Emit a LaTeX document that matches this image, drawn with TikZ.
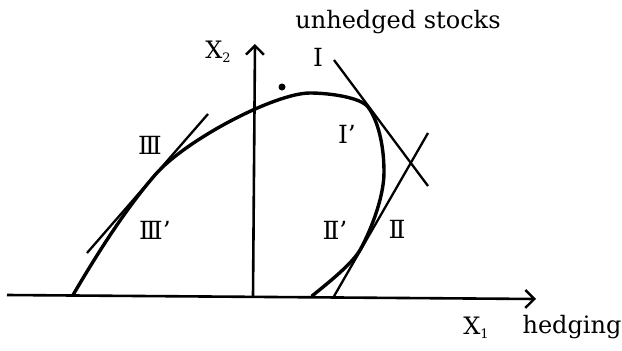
\documentclass[tikz,border=0pt]{standalone}
\usepackage{fontspec}
\setmainfont{DejaVu Serif}
\usetikzlibrary{arrows.meta}
\begin{document}
\begin{tikzpicture}[x=1pt,y=-1pt,
  curvestyle/.style={line width=3.4pt, line cap=round, line join=round},
  axisstyle/.style={line width=2.6pt, -{Straight Barb[length=9pt,width=18pt,line width=2.4pt]}},
  tanline/.style={line width=2.3pt},
  lbl/.style={font=\fontsize{24}{28}\selectfont, inner sep=0pt},
  numlbl/.style={font=\fontsize{25}{28}\selectfont, inner sep=0pt}]
\useasboundingbox (0,0) rectangle (622,351);
% axes
\coordinate (xs) at (7,295);
\coordinate (xe) at (536,299);
\coordinate (ys) at (253,297);
\coordinate (ye) at (255,44);
\draw[axisstyle] (xs) -- (xe);
\draw[axisstyle] (ys) -- (ye);
% curve
\coordinate (c0) at (73,295);
\coordinate (tIII) at (155,175);
\coordinate (peak) at (310,93);
\coordinate (tI) at (368,107);
\coordinate (rmax) at (384,172);
\coordinate (tII) at (360,250);
\coordinate (c1) at (312,296);
\draw[curvestyle] (c0) .. controls (98,252.5) and (125,209.8) .. (tIII)
  .. controls (185,140.2) and (275,93) .. (peak)
  .. controls (330,93) and (361,97.6) .. (tI)
  .. controls (378,120.4) and (384,145) .. (rmax)
  .. controls (384,200) and (368,236) .. (tII)
  .. controls (352,264) and (328,283) .. (c1);
% tangents
\coordinate (ia) at (334,60);
\coordinate (ib) at (428,186);
\coordinate (iia) at (333,298);
\coordinate (iib) at (428,133);
\coordinate (iiia) at (87,253);
\coordinate (iiib) at (208,114);
\draw[tanline] (ia) -- (ib);
\draw[tanline] (iia) -- (iib);
\draw[tanline] (iiia) -- (iiib);
% dot
\fill (282,87) circle (3.5);
% labels
\node[lbl] (top) at (398,22) {unhedged stocks};
\node[lbl] (x2) at (218,52) {X\raisebox{-0.35ex}{\fontsize{13}{14}\selectfont 2}};
\node[lbl] (x1) at (476,328) {X\raisebox{-0.35ex}{\fontsize{13}{14}\selectfont 1}};
\node[lbl] (hedg) at (572,327) {hedging};
\node[numlbl] (lI) at (318,57) {I};
\node[numlbl] (lIp) at (347,134) {I'};
\node[numlbl] (lIII) at (150,145) {I\kern-3pt I\kern-3pt I};
\node[numlbl] (lIIIp) at (155,230) {I\kern-3pt I\kern-3pt I'};
\node[numlbl] (lIIp) at (335,230) {I\kern-3pt I'};
\node[numlbl] (lII) at (397,229) {I\kern-3pt I};
\end{tikzpicture}
\end{document}
